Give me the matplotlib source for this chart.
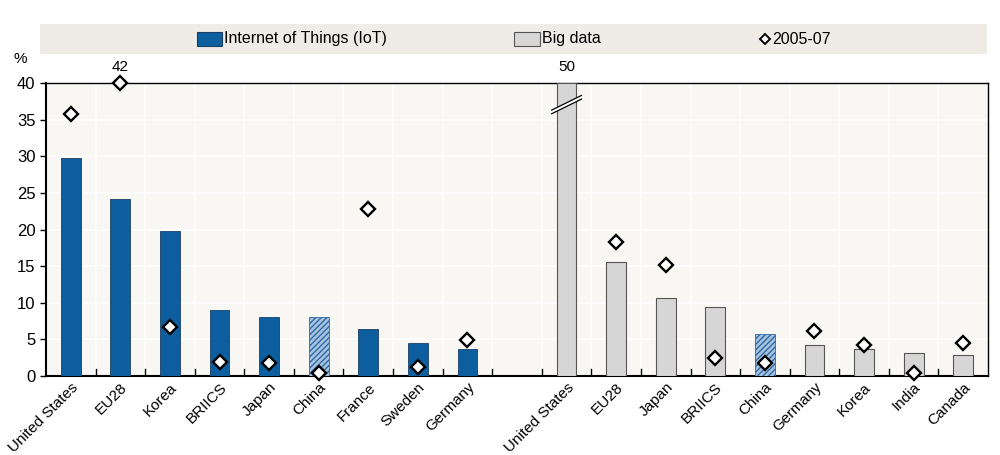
import numpy as np
import matplotlib
matplotlib.use('Agg')
import matplotlib.pyplot as plt
from matplotlib.patches import Rectangle, Polygon
from matplotlib.lines import Line2D

plt.rcParams['font.family'] = ['Liberation Sans Narrow', 'Liberation Sans', 'DejaVu Sans']

# data
iot_labels = ['United States', 'EU28', 'Korea', 'BRIICS', 'Japan', 'China', 'France', 'Sweden', 'Germany']
iot_vals = [29.8, 24.1, 19.8, 9.0, 8.1, 8.0, 6.4, 4.5, 3.7]
iot_0507 = [35.7, 42.0, 6.7, 1.9, 1.8, 0.4, 22.8, 1.2, 4.9]

big_labels = ['United States', 'EU28', 'Japan', 'BRIICS', 'China', 'Germany', 'Korea', 'India', 'Canada']
big_vals = [50.0, 15.6, 10.6, 9.4, 5.8, 4.2, 3.7, 3.2, 2.9]
big_0507 = [np.nan, 18.3, 15.1, 2.5, 1.8, 6.1, 4.2, 0.4, 4.5]

ymax = 40
blue = '#0c5e9e'
grey = '#d6d6d6'
bg = '#f9f7f4'

fig = plt.figure(figsize=(10, 4.55), dpi=100)
ax = fig.add_axes([0.046, 0.1736, 0.942, 0.644])
ax.set_facecolor(bg)

n1 = len(iot_labels)
x1 = np.arange(n1)
x2 = np.arange(len(big_labels)) + n1 + 1
w = 0.4

for i in range(n1):
    if iot_labels[i] == 'China':
        ax.bar(x1[i], iot_vals[i], w, facecolor='#a9c3df', edgecolor='#2c6aa5',
               hatch='//////', linewidth=0.6, zorder=3)
    else:
        ax.bar(x1[i], iot_vals[i], w, color=blue, edgecolor='#1a3f66', linewidth=0.6, zorder=3)

for i in range(len(big_labels)):
    v = min(big_vals[i], ymax)
    if big_labels[i] == 'China':
        ax.bar(x2[i], v, w, facecolor='#a9c3df', edgecolor='#2c6aa5',
               hatch='//////', linewidth=0.6, zorder=3)
    else:
        ax.bar(x2[i], v, w, color=grey, edgecolor='#555555', linewidth=0.8, zorder=3)

# break mark on the clipped big data bar
xb = x2[0]
yb = 36.8
poly = Polygon([[xb - 0.3, yb - 1.0], [xb + 0.3, yb + 1.0], [xb + 0.3, yb + 1.5], [xb - 0.3, yb - 0.5]],
               closed=True, facecolor='white', edgecolor='none', zorder=4)
ax.add_patch(poly)
ax.plot([xb - 0.3, xb + 0.3], [yb - 1.0, yb + 1.0], color='black', lw=0.9, zorder=5)
ax.plot([xb - 0.3, xb + 0.3], [yb - 0.5, yb + 1.5], color='black', lw=0.9, zorder=5)
ax.text(xb, ymax + 1.2, '50', ha='center', va='bottom', fontsize=11)

# diamonds
d1 = np.minimum(iot_0507, ymax)
d2 = np.minimum(big_0507, ymax)
mk = dict(marker='D', markersize=7.5, markerfacecolor='white', markeredgecolor='black',
          markeredgewidth=1.7, linestyle='none', zorder=6, clip_on=False)
ax.plot(x1, d1, **mk)
ax.plot(x2, d2, **mk)
ax.text(x1[1], ymax + 1.2, '42', ha='center', va='bottom', fontsize=11)

ax.set_xlim(-0.5, x2[-1] + 0.5)
ax.set_ylim(0, ymax)
ax.set_yticks(np.arange(0, 41, 5))
ax.set_xticks(list(x1) + list(x2))
ax.set_xticklabels(iot_labels + big_labels, rotation=45, ha='right', rotation_mode='anchor', fontsize=11)
ax.tick_params(axis='x', length=0, pad=3)
ax.tick_params(axis='y', labelsize=12, length=4, width=1, direction='out')

# grid and boundary ticks
bounds = np.arange(-0.5, x2[-1] + 0.6, 1)
for b in bounds[1:-1]:
    ax.axvline(b, color='white', lw=1.2, zorder=1)
    ax.plot([b, b], [0, 0.9], color='black', lw=1, zorder=2)
for yv in np.arange(5, 40, 5):
    ax.axhline(yv, color='white', lw=1.2, zorder=1)

for s in ['left', 'bottom']:
    ax.spines[s].set_linewidth(1.5)
for s in ['top', 'right']:
    ax.spines[s].set_linewidth(1.0)

fig.text(0.013, 0.862, '%', fontsize=11)

# legend band
fig.add_artist(Rectangle((0.040, 1 - 54 / 455), 0.947, 30 / 455, transform=fig.transFigure,
                         facecolor='#efebe6', edgecolor='none'))
ly = 1 - 39 / 455
fig.add_artist(Rectangle((0.197, ly - 0.015), 0.025, 0.03, transform=fig.transFigure,
                         facecolor=blue, edgecolor='#1a3f66', lw=0.8))
fig.text(0.2235, ly, 'Internet of Things (IoT)', va='center', fontsize=11.5)
fig.add_artist(Rectangle((0.514, ly - 0.015), 0.026, 0.03, transform=fig.transFigure,
                         facecolor=grey, edgecolor='#555555', lw=0.8))
fig.text(0.5415, ly, 'Big data', va='center', fontsize=11.5)
fig.add_artist(Line2D([0.765], [ly], marker='D', markersize=5.5, markerfacecolor='white',
                      markeredgecolor='black', markeredgewidth=1.4, transform=fig.transFigure))
fig.text(0.772, ly, '2005-07', va='center', fontsize=11.5)

fig.savefig('out.png', dpi=100)
